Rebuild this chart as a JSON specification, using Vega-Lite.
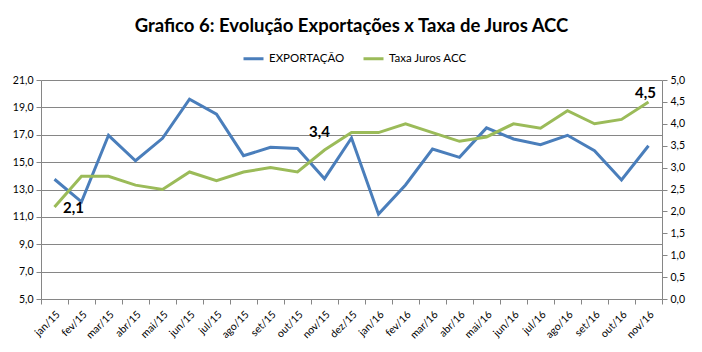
{
  "$schema": "https://vega.github.io/schema/vega-lite/v6.json",
  "width": 621,
  "height": 219,
  "autosize": {"type": "none"},
  "padding": {"left": 41, "top": 80, "right": 40, "bottom": 53},
  "background": "white",
  "title": {
    "text": "Grafico 6: Evolução Exportações x Taxa de Juros ACC",
    "font": "Lato",
    "fontSize": 18.5,
    "fontWeight": "bold",
    "color": "#000000",
    "anchor": "middle",
    "frame": "group",
    "offset": 12
  },
  "config": {
    "locale": {
      "number": {"decimal": ",", "thousands": ".", "grouping": [3], "currency": ["R$", ""]}
    },
    "view": {"stroke": null},
    "axis": {
      "labelFont": "Lato",
      "labelFontSize": 10.5,
      "labelColor": "#000000",
      "domainColor": "#868686",
      "tickColor": "#868686",
      "gridColor": "#868686",
      "tickSize": 5
    },
    "legend": {
      "orient": "none",
      "legendX": 201,
      "legendY": -33,
      "direction": "horizontal",
      "symbolType": "stroke",
      "symbolStrokeWidth": 3,
      "symbolSize": 400,
      "labelFont": "Lato",
      "labelFontSize": 11.5,
      "labelColor": "#000000",
      "columnPadding": 12,
      "title": null
    }
  },
  "data": {
    "values": [
      {"mes": "jan/15", "exp": 13.75, "taxa": 2.1},
      {"mes": "fev/15", "exp": 12.1, "taxa": 2.8},
      {"mes": "mar/15", "exp": 16.96, "taxa": 2.8},
      {"mes": "abr/15", "exp": 15.1, "taxa": 2.6},
      {"mes": "mai/15", "exp": 16.74, "taxa": 2.5},
      {"mes": "jun/15", "exp": 19.6, "taxa": 2.9},
      {"mes": "jul/15", "exp": 18.5, "taxa": 2.7},
      {"mes": "ago/15", "exp": 15.47, "taxa": 2.9},
      {"mes": "set/15", "exp": 16.08, "taxa": 3.0},
      {"mes": "out/15", "exp": 16.0, "taxa": 2.9},
      {"mes": "nov/15", "exp": 13.79, "taxa": 3.4},
      {"mes": "dez/15", "exp": 16.76, "taxa": 3.8},
      {"mes": "jan/16", "exp": 11.2, "taxa": 3.8},
      {"mes": "fev/16", "exp": 13.33, "taxa": 4.0},
      {"mes": "mar/16", "exp": 15.96, "taxa": 3.8},
      {"mes": "abr/16", "exp": 15.35, "taxa": 3.6},
      {"mes": "mai/16", "exp": 17.5, "taxa": 3.7},
      {"mes": "jun/16", "exp": 16.69, "taxa": 4.0},
      {"mes": "jul/16", "exp": 16.27, "taxa": 3.9},
      {"mes": "ago/16", "exp": 16.96, "taxa": 4.3},
      {"mes": "set/16", "exp": 15.84, "taxa": 4.0},
      {"mes": "out/16", "exp": 13.7, "taxa": 4.1},
      {"mes": "nov/16", "exp": 16.2, "taxa": 4.5}
    ]
  },
  "encoding": {
    "x": {
      "field": "mes",
      "type": "ordinal",
      "sort": null,
      "scale": {"paddingInner": 0, "paddingOuter": 0},
      "axis": {
        "title": null,
        "labelAngle": -45,
        "tickBand": "extent",
        "labelPadding": 5
      }
    }
  },
  "layer": [
    {
      "mark": {"type": "line", "strokeWidth": 3},
      "encoding": {
        "y": {
          "field": "exp",
          "type": "quantitative",
          "scale": {"domain": [5, 21], "nice": false, "zero": false},
          "axis": {
            "orient": "left",
            "title": null,
            "values": [5, 7, 9, 11, 13, 15, 17, 19, 21],
            "format": ".1f",
            "grid": true,
            "labelPadding": 3
          }
        },
        "color": {
          "datum": "EXPORTAÇÃO",
          "type": "nominal",
          "scale": {"domain": ["EXPORTAÇÃO", "Taxa Juros ACC"], "range": ["#4a7ebb", "#9bbb59"]}
        }
      }
    },
    {
      "mark": {"type": "line", "strokeWidth": 3},
      "encoding": {
        "y": {
          "field": "taxa",
          "type": "quantitative",
          "scale": {"domain": [0, 5], "nice": false},
          "axis": {
            "orient": "right",
            "title": null,
            "values": [0, 0.5, 1, 1.5, 2, 2.5, 3, 3.5, 4, 4.5, 5],
            "format": ".1f",
            "grid": false,
            "labelPadding": 3
          }
        },
        "color": {"datum": "Taxa Juros ACC", "type": "nominal"}
      }
    },
    {
      "transform": [{"filter": "datum.mes == 'jan/15'"}],
      "mark": {"type": "text", "font": "Lato", "fontSize": 15, "fontWeight": "bold", "color": "#000000", "dx": 19, "dy": 1, "baseline": "middle"},
      "encoding": {
        "y": {"field": "taxa", "type": "quantitative", "scale": {"domain": [0, 5], "nice": false}, "axis": null},
        "text": {"field": "taxa", "type": "quantitative", "format": ".1f"}
      }
    },
    {
      "transform": [{"filter": "datum.mes == 'nov/15'"}],
      "mark": {"type": "text", "font": "Lato", "fontSize": 15, "fontWeight": "bold", "color": "#000000", "dx": -5, "dy": -18, "baseline": "middle"},
      "encoding": {
        "y": {"field": "taxa", "type": "quantitative", "scale": {"domain": [0, 5], "nice": false}, "axis": null},
        "text": {"field": "taxa", "type": "quantitative", "format": ".1f"}
      }
    },
    {
      "transform": [{"filter": "datum.mes == 'nov/16'"}],
      "mark": {"type": "text", "font": "Lato", "fontSize": 15, "fontWeight": "bold", "color": "#000000", "dx": -3, "dy": -9, "baseline": "middle"},
      "encoding": {
        "y": {"field": "taxa", "type": "quantitative", "scale": {"domain": [0, 5], "nice": false}, "axis": null},
        "text": {"field": "taxa", "type": "quantitative", "format": ".1f"}
      }
    }
  ],
  "resolve": {"scale": {"y": "independent"}}
}
